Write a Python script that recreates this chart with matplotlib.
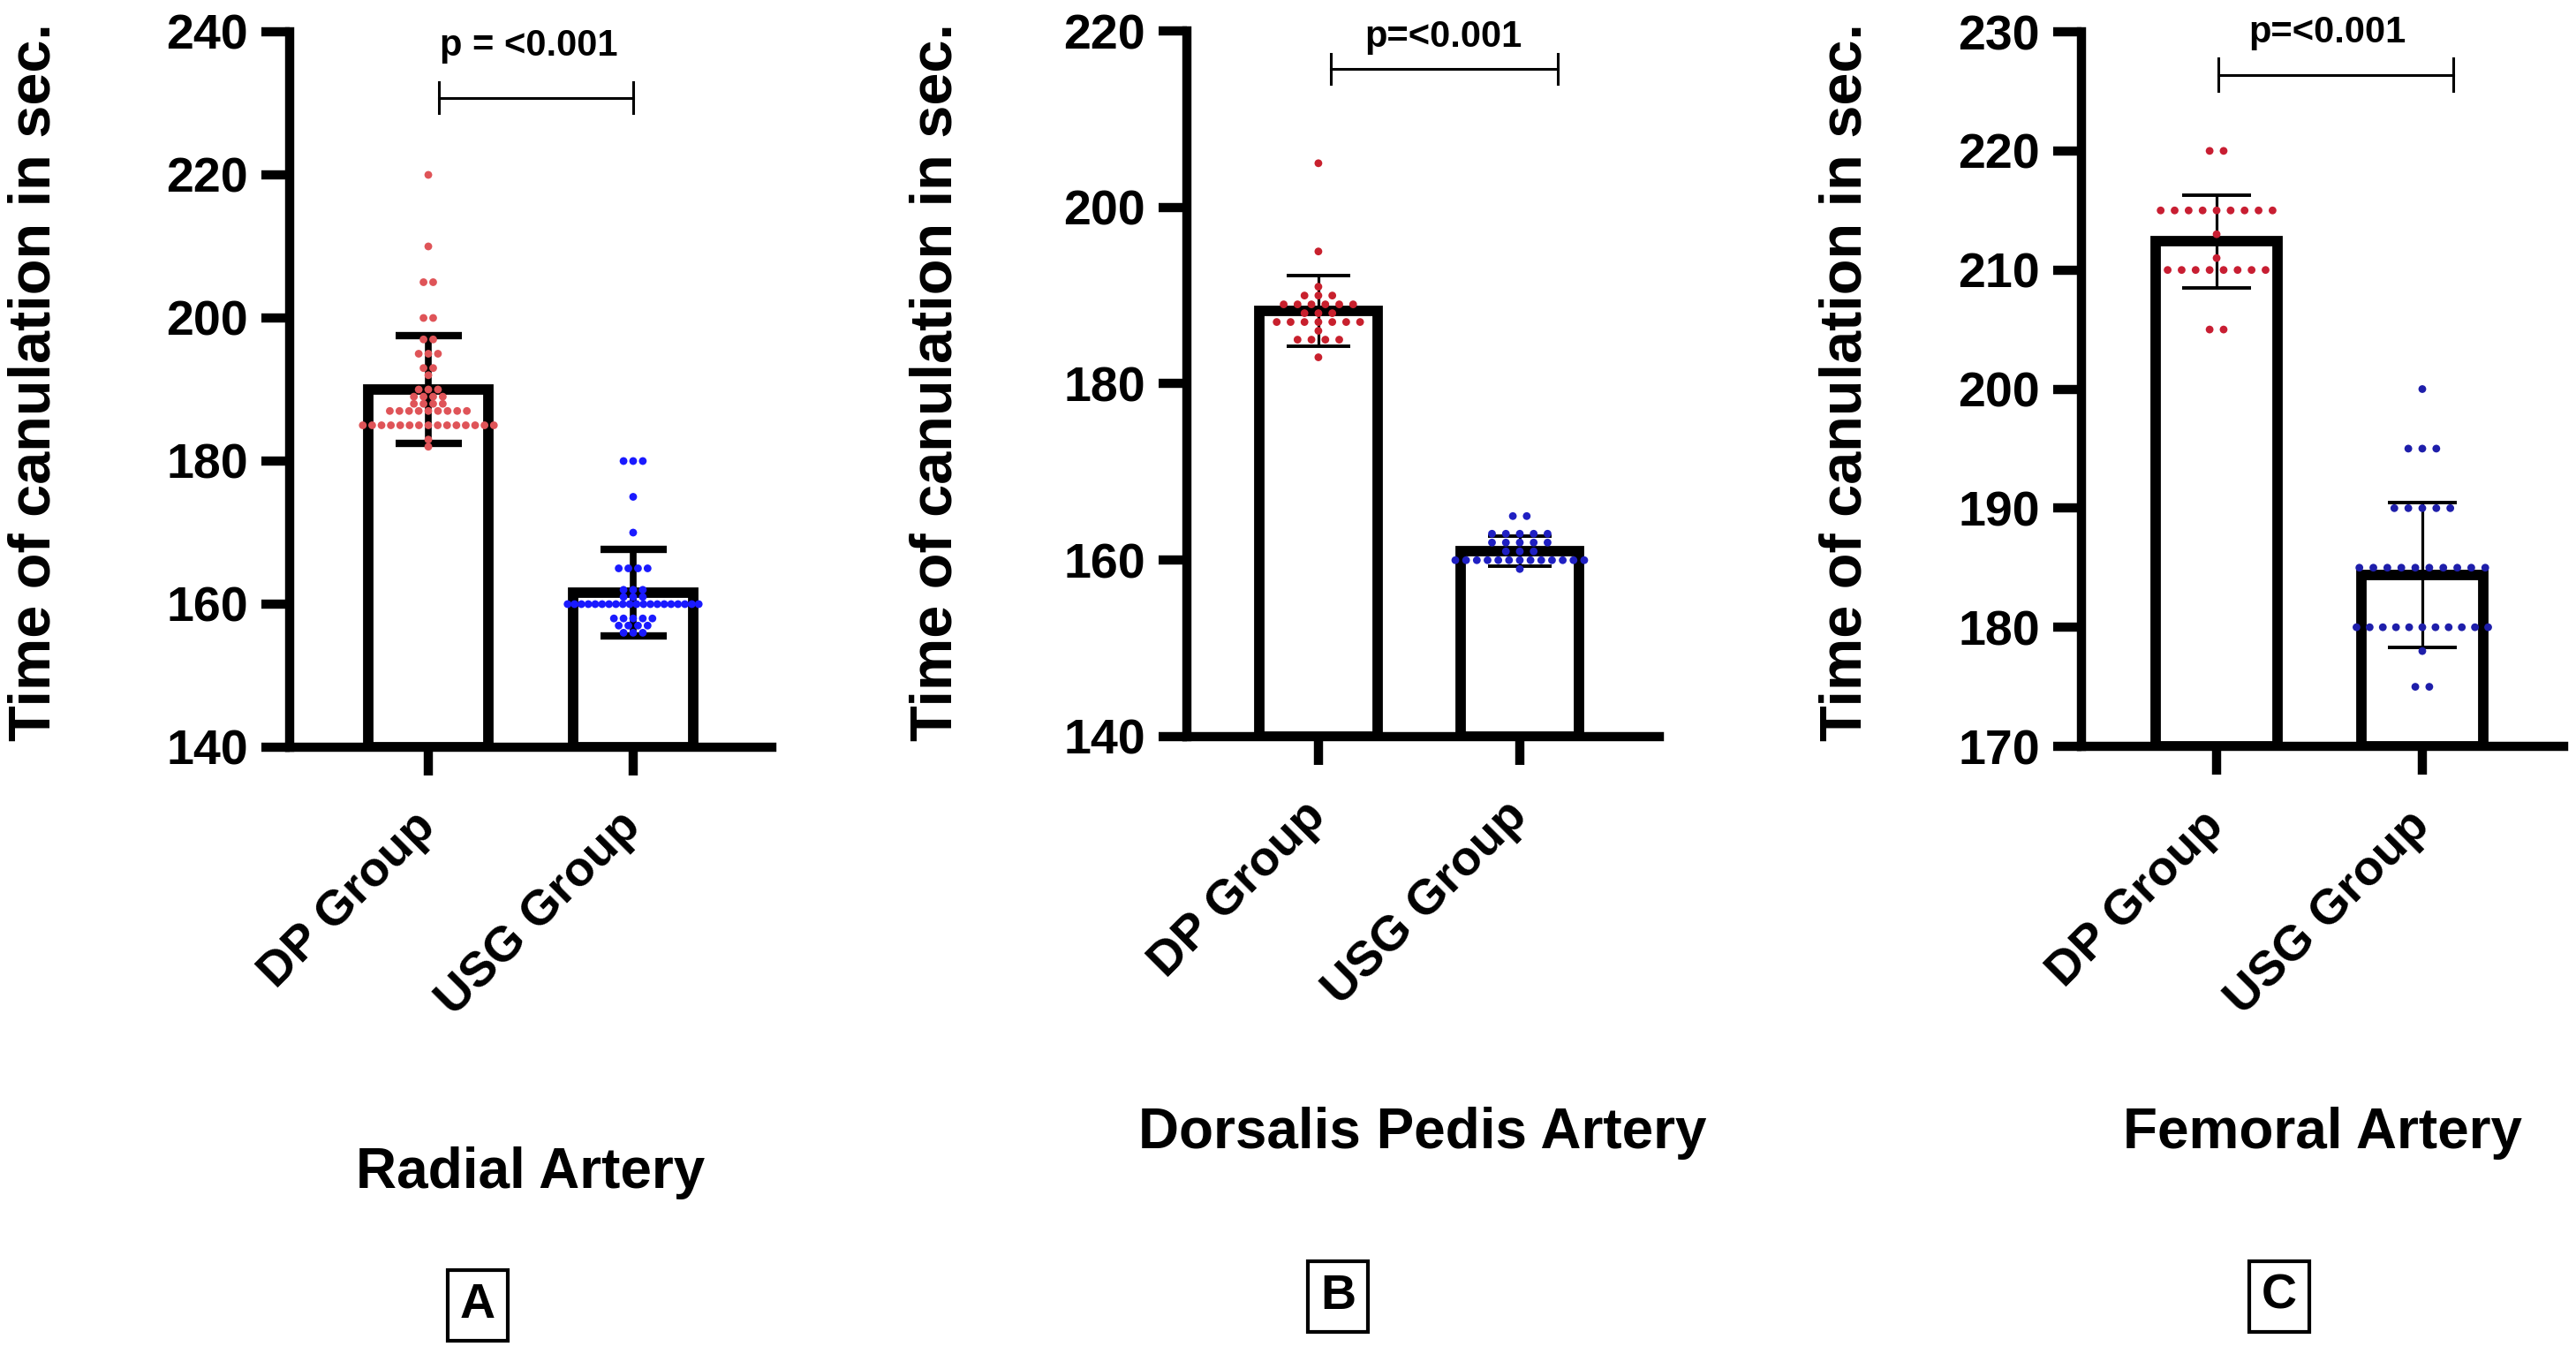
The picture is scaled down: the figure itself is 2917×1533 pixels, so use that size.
import numpy as np
import matplotlib
matplotlib.use('Agg')
import matplotlib.pyplot as plt

plt.rcParams['font.family'] = ['Liberation Sans', 'DejaVu Sans']
plt.rcParams['font.weight'] = 'bold'

groups = ['DP Group', 'USG Group']
ylabel_txt = 'Time of canulation in sec.'
panel_titles = ['Radial Artery', 'Dorsalis Pedis Artery', 'Femoral Artery']
panel_letters = ['A', 'B', 'C']
p_texts = ['p = <0.001', 'p=<0.001', 'p=<0.001']

#------------------------------------------------------------------ A: radial artery
radial_dp_vals = [220, 210, 205, 200, 197, 195, 193, 192, 190, 189, 188, 187, 185, 183, 182]
radial_dp_counts = [1, 1, 2, 2, 2, 3, 2, 1, 3, 4, 4, 9, 15, 1, 1]
radial_usg_vals = [180, 175, 170, 165, 162, 161, 160, 158, 157, 156]
radial_usg_counts = [3, 1, 1, 4, 3, 3, 20, 5, 4, 3]
radial_mean = [190.0, 161.6]
radial_sd = [7.5, 6.0]

#------------------------------------------------------------------ B: dorsalis pedis artery
dorsalis_dp_vals = [205, 195, 191, 190, 189, 188, 187, 186, 185, 183]
dorsalis_dp_counts = [1, 1, 1, 3, 6, 3, 7, 1, 4, 1]
dorsalis_usg_vals = [165, 163, 162, 161, 160, 159]
dorsalis_usg_counts = [2, 5, 5, 3, 13, 1]
dorsalis_mean = [188.3, 161.0]
dorsalis_sd = [4.0, 1.7]

#------------------------------------------------------------------ C: femoral artery
femoral_dp_vals = [220, 215, 213, 211, 210, 205]
femoral_dp_counts = [2, 9, 1, 1, 8, 2]
femoral_usg_vals = [200, 195, 190, 185, 180, 178, 175]
femoral_usg_counts = [1, 3, 5, 10, 11, 1, 2]
femoral_mean = [212.4, 184.4]
femoral_sd = [3.9, 6.1]

W, H = 2917, 1533
fig = plt.figure(figsize=(W / 100, H / 100), dpi=100)


def draw_panel(box, xlim, ylim, ystep, dp, usg, mean, sd, colors, dot_gap,
               err_lw, cap_size, bracket, p_label, p_xy):
    left, top, right, bottom = box
    ax = fig.add_axes([left / W, 1 - bottom / H, (right - left) / W, (bottom - top) / H])
    x = np.arange(len(groups))
    mean = np.array(mean)
    ax.bar(x, mean - ylim[0], bottom=ylim[0], width=0.59, color='white',
           edgecolor='black', linewidth=8.5, zorder=1)
    ax.errorbar(x, mean, yerr=sd, fmt='none', ecolor='black', elinewidth=err_lw,
                capsize=cap_size, capthick=err_lw + 0.5, zorder=2)
    for i, (vals, counts) in enumerate([dp, usg]):
        for v, n in zip(vals, counts):
            gap = min(dot_gap, 0.64 / max(n - 1, 1))
            xs = i + (np.arange(n) - (n - 1) / 2) * gap
            ax.scatter(xs, [v] * n, s=40, color=colors[i], edgecolors='none',
                       zorder=3, clip_on=False)

    ax.set_xlim(xlim)
    ax.set_ylim(ylim)
    ax.set_yticks(np.arange(ylim[0], ylim[1] + 1, ystep))
    ax.set_xticks(x, groups, rotation=45, ha='right', va='center', rotation_mode='anchor')
    ax.spines[['top', 'right']].set_visible(False)
    for s in ['left', 'bottom']:
        ax.spines[s].set_linewidth(7.5)
    ax.tick_params(axis='both', width=7.5, length=23)
    ax.tick_params(axis='y', labelsize=40, pad=11)
    ax.tick_params(axis='x', labelsize=40, pad=36)

    # significance bracket
    x0, x1, yb, d = bracket
    ax.plot([x0, x1], [yb, yb], color='black', lw=2.2, clip_on=False)
    ax.plot([x0, x0], [yb - d, yb + d], color='black', lw=2.2, clip_on=False)
    ax.plot([x1, x1], [yb - d, yb + d], color='black', lw=2.2, clip_on=False)
    ax.text(p_xy[0], p_xy[1], p_label, ha='center', va='center', fontsize=30,
            fontweight='bold', clip_on=False)
    return ax


draw_panel((328, 36, 874, 846), (-0.677, 1.677), (140, 240), 20,
           (radial_dp_vals, radial_dp_counts), (radial_usg_vals, radial_usg_counts),
           radial_mean, radial_sd, ['#df5458', '#1a1aff'], 0.047,
           5.5, 27, (0.05, 1.0, 230.8, 2.2), p_texts[0], (0.49, 238.0))

draw_panel((1344, 35, 1879, 834), (-0.653, 1.693), (140, 220), 20,
           (dorsalis_dp_vals, dorsalis_dp_counts), (dorsalis_usg_vals, dorsalis_usg_counts),
           dorsalis_mean, dorsalis_sd, ['#c8202d', '#1f1fc2'], 0.069,
           2.3, 26, (0.06, 1.19, 215.7, 1.7), p_texts[1], (0.62, 219.3))

draw_panel((2357, 36, 2903, 845), (-0.657, 1.687), (170, 230), 10,
           (femoral_dp_vals, femoral_dp_counts), (femoral_usg_vals, femoral_usg_counts),
           femoral_mean, femoral_sd, ['#c81e32', '#1e1eaa'], 0.068,
           2.3, 28, (0.01, 1.15, 226.4, 1.35), p_texts[2], (0.54, 229.9))

# y labels
for xl in [40, 1060, 2090]:
    fig.text(xl / W, 1 - 433 / H, ylabel_txt, rotation=90, ha='center', va='center',
             fontsize=48, fontweight='bold')

# panel names under the axes
for t, (xc, yc) in zip(panel_titles, [(601, 1328), (1611, 1283), (2630, 1283)]):
    fig.text(xc / W, 1 - yc / H, t, ha='center', va='center', fontsize=46, fontweight='bold')

# boxed letters
for t, (xc, yc) in zip(panel_letters, [(541, 1478), (1515, 1468), (2581, 1468)]):
    fig.text(xc / W, 1 - yc / H, t, ha='center', va='center', fontsize=40, fontweight='bold',
             bbox=dict(boxstyle='square,pad=0.25', fc='white', ec='black', lw=3))

fig.savefig('out.png', dpi=100, facecolor='white')
